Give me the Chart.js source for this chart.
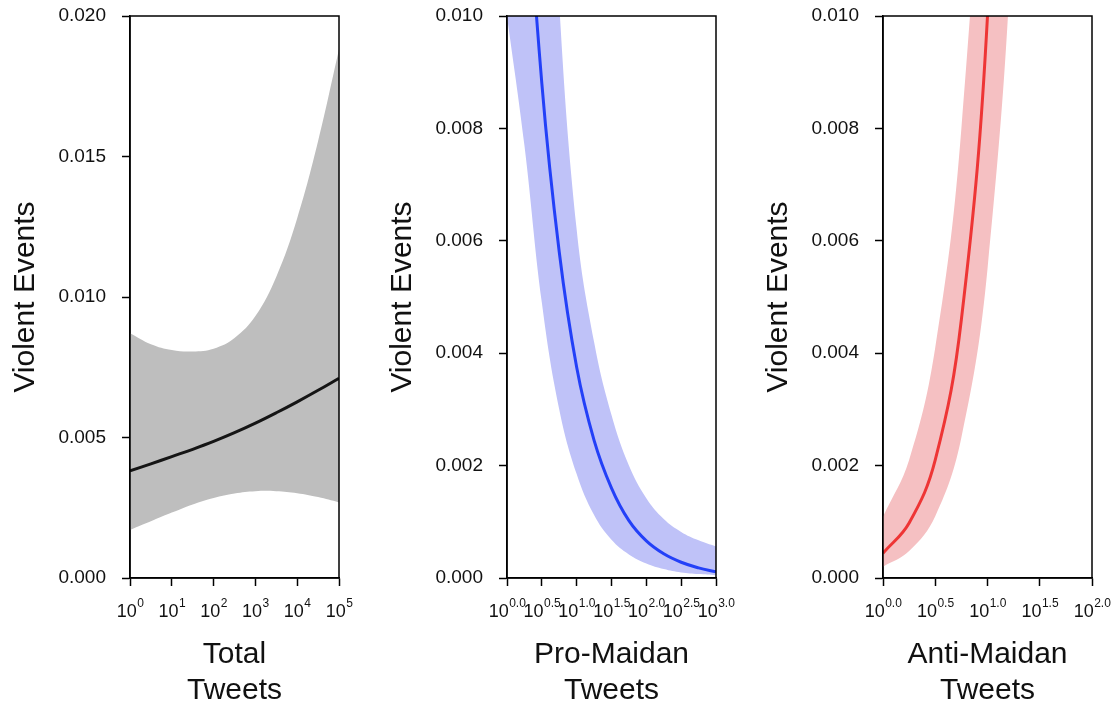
<!DOCTYPE html>
<html>
<head>
<meta charset="utf-8">
<script src="https://cdn.jsdelivr.net/npm/chart.js@4.4.0/dist/chart.umd.min.js"></script>
<style>
  body { margin: 0; background: #fff; width: 1120px; height: 709px; overflow: hidden; position: relative; }
  canvas { position: absolute; top: 0; }
</style>
</head>
<body>
<canvas id="totalChart" width="370" height="709" style="left:0px"></canvas>
<canvas id="proChart" width="370" height="709" style="left:377px"></canvas>
<canvas id="antiChart" width="367" height="709" style="left:753px"></canvas>
<script>
// x values are log10 of tweet counts
const totalExp   = [0, 0.5, 1, 1.5, 2, 2.5, 3, 3.5, 4, 4.5, 5];
const totalMean  = [0.00381, 0.00406, 0.00432, 0.00458, 0.00486, 0.00517, 0.00551, 0.00588, 0.00627, 0.00668, 0.00711];
const totalUpper = [0.00871, 0.00832, 0.00811, 0.00806, 0.00816, 0.00854, 0.00932, 0.01072, 0.01280, 0.01555, 0.01882];
const totalLower = [0.00171, 0.00202, 0.00233, 0.00262, 0.00285, 0.00301, 0.00309, 0.00309, 0.00302, 0.00288, 0.00269];
const totalTicks = ['0', '1', '2', '3', '4', '5'];

const proExp   = [0, 0.25, 0.5, 0.75, 1, 1.25, 1.5, 1.75, 2, 2.25, 2.5, 2.75, 3];
const proMean  = [0.0205, 0.0133, 0.0088, 0.0058, 0.00375, 0.00245, 0.00160, 0.00102, 0.00066, 0.00043, 0.00028, 0.00018, 0.00011];
const proUpper = [0.040, 0.027, 0.0165, 0.0102, 0.0062, 0.0042, 0.0029, 0.00200, 0.00142, 0.00105, 0.00082, 0.00067, 0.00056];
const proLower = [0.0100, 0.0077, 0.0049, 0.0030, 0.00185, 0.00112, 0.00068, 0.00042, 0.00026, 0.00016, 0.00010, 0.00007, 0.00005];
const proTicks = ['0.0', '0.5', '1.0', '1.5', '2.0', '2.5', '3.0'];

const antiExp   = [0, 0.25, 0.5, 0.75, 1, 1.25, 1.5, 1.75, 2];
const antiMean  = [0.00044, 0.00098, 0.0021, 0.0046, 0.0100, 0.0216, 0.046, 0.095, 0.19];
const antiUpper = [0.00109, 0.0021, 0.0041, 0.0080, 0.0158, 0.031, 0.062, 0.125, 0.25];
const antiLower = [0.0002, 0.00048, 0.0011, 0.0025, 0.0055, 0.012, 0.026, 0.055, 0.115];
const antiTicks = ['0.0', '0.5', '1.0', '1.5', '2.0'];

const FONT = '"Liberation Sans", Arial, Helvetica, sans-serif';

// box around the plot + "10^x" tick labels
const frameTicks = {
    id: 'frameTicks',
    afterDraw(chart) {
        const {ctx, chartArea: a} = chart;
        const xs = chart.scales.x;
        const labels = chart.options.plugins.frameTicks.labels;
        ctx.save();
        ctx.strokeStyle = '#000';
        ctx.lineWidth = 1.5;
        ctx.strokeRect(a.left, a.top, a.right - a.left, a.bottom - a.top);
        ctx.fillStyle = '#111';
        ctx.textBaseline = 'alphabetic';
        ctx.textAlign = 'left';
        labels.forEach(lab => {
            const px = xs.getPixelForValue(parseFloat(lab));
            ctx.font = '18px ' + FONT;
            const w1 = ctx.measureText('10').width;
            ctx.font = '12px ' + FONT;
            const w2 = ctx.measureText(lab).width;
            const left = px - (w1 + w2) / 2;
            ctx.font = '18px ' + FONT;
            ctx.fillText('10', left, a.bottom + 39);
            ctx.font = '12px ' + FONT;
            ctx.fillText(lab, left + w1 + 0.5, a.bottom + 29);
        });
        ctx.restore();
    }
};

function toPoints(xs, ys) {
    return xs.map((x, i) => ({x: x, y: ys[i]}));
}

function makePanel(id, opts) {
    return new Chart(document.getElementById(id), {
        type: 'line',
        data: {
            datasets: [
                {
                    data: toPoints(opts.xs, opts.mean),
                    borderColor: opts.line,
                    borderWidth: 3,
                    pointRadius: 0,
                    fill: false
                },
                {
                    data: toPoints(opts.xs, opts.upper),
                    borderWidth: 0,
                    borderColor: 'rgba(0,0,0,0)',
                    backgroundColor: opts.band,
                    pointRadius: 0,
                    fill: '+1'
                },
                {
                    data: toPoints(opts.xs, opts.lower),
                    borderWidth: 0,
                    borderColor: 'rgba(0,0,0,0)',
                    pointRadius: 0,
                    fill: false
                }
            ]
        },
        options: {
            responsive: false,
            animation: false,
            events: [],
            elements: { line: { tension: 0.4, capBezierPoints: false } },
            layout: { padding: { top: 16, right: opts.rightPad, left: 0, bottom: 0 } },
            plugins: {
                legend: { display: false },
                tooltip: { enabled: false },
                frameTicks: { labels: opts.ticks }
            },
            scales: {
                x: {
                    type: 'linear',
                    min: opts.xMin,
                    max: opts.xMax,
                    afterBuildTicks: (s) => { s.ticks = opts.ticks.map(t => ({value: parseFloat(t)})); },
                    afterFit: (s) => { s.height = 131; s.paddingLeft = 0; s.paddingRight = 0; },
                    ticks: { display: false },
                    grid: { drawOnChartArea: false, drawTicks: true, tickLength: 8, tickWidth: 1.5, tickColor: '#000', color: '#000' },
                    border: { display: true, color: '#000', width: 1.5 },
                    title: {
                        display: true,
                        text: opts.title,
                        color: '#111',
                        font: { size: 30, family: FONT, lineHeight: 1.2 },
                        padding: { top: 0, bottom: 0 }
                    }
                },
                y: {
                    min: 0,
                    max: opts.yMax,
                    afterFit: (s) => { s.width = 130; s.paddingTop = 0; s.paddingBottom = 0; },
                    ticks: {
                        stepSize: opts.yStep,
                        padding: 16,
                        color: '#111',
                        font: { size: 19, family: FONT },
                        callback: (v) => v.toFixed(3)
                    },
                    grid: { drawOnChartArea: false, drawTicks: true, tickLength: 8, tickWidth: 1.5, tickColor: '#000', color: '#000' },
                    border: { display: true, color: '#000', width: 1.5 },
                    title: {
                        display: true,
                        text: 'Violent Events',
                        color: '#111',
                        font: { size: 30, family: FONT, lineHeight: 1.2 },
                        padding: { top: 8, bottom: 0 }
                    }
                }
            }
        },
        plugins: [frameTicks]
    });
}

makePanel('totalChart', {
    xs: totalExp, mean: totalMean, upper: totalUpper, lower: totalLower, ticks: totalTicks,
    xMin: 0, xMax: 5, yMax: 0.02, yStep: 0.005,
    line: '#151515', band: '#bebebe', title: ['Total', 'Tweets'], rightPad: 31
});

makePanel('proChart', {
    xs: proExp, mean: proMean, upper: proUpper, lower: proLower, ticks: proTicks,
    xMin: 0, xMax: 3, yMax: 0.01, yStep: 0.002,
    line: '#2340f8', band: '#bfc2f8', title: ['Pro-Maidan', 'Tweets'], rightPad: 31
});

makePanel('antiChart', {
    xs: antiExp, mean: antiMean, upper: antiUpper, lower: antiLower, ticks: antiTicks,
    xMin: 0, xMax: 2, yMax: 0.01, yStep: 0.002,
    line: '#ee3535', band: '#f5c0c2', title: ['Anti-Maidan', 'Tweets'], rightPad: 28
});
</script>
</body>
</html>
